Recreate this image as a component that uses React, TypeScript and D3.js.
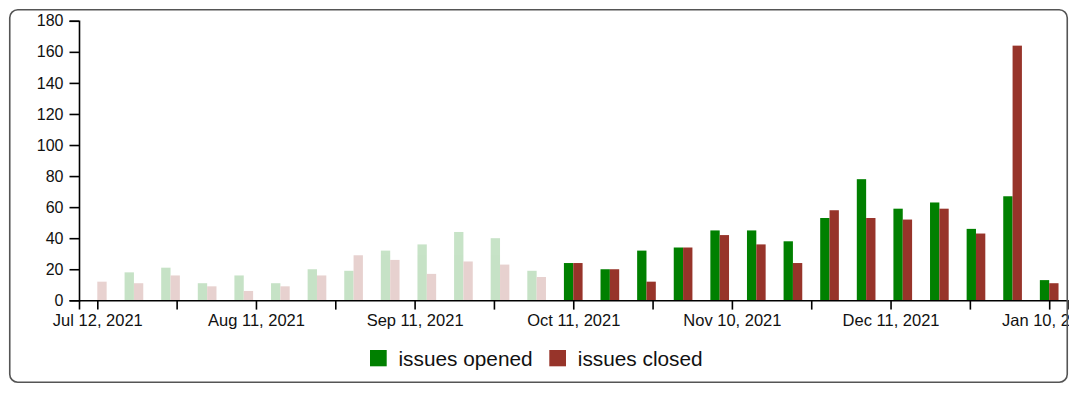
import React, { useEffect, useRef } from "react";
import * as d3 from "d3";

// ---- data ----
const weekDates = [
  "2021-07-12", "2021-07-19", "2021-07-26", "2021-08-02", "2021-08-09", "2021-08-16",
  "2021-08-23", "2021-08-30", "2021-09-06", "2021-09-13", "2021-09-20", "2021-09-27",
  "2021-10-04", "2021-10-11", "2021-10-18", "2021-10-25", "2021-11-01", "2021-11-08",
  "2021-11-15", "2021-11-22", "2021-11-29", "2021-12-06", "2021-12-13", "2021-12-20",
  "2021-12-27", "2022-01-03", "2022-01-10",
];
const issuesOpened = [0, 18, 21, 11, 16, 11, 20, 19, 32, 36, 44, 40, 19, 24, 20, 32, 34, 45, 45, 38, 53, 78, 59, 63, 46, 67, 13];
const issuesClosed = [12, 11, 16, 9, 6, 9, 16, 29, 26, 17, 25, 23, 15, 24, 20, 12, 34, 42, 36, 24, 58, 53, 52, 59, 43, 164, 11];
const highlightFrom = "2021-10-11";

const xTickDates = [
  "2021-07-12T12:00", "2021-07-27T16:00", "2021-08-11T20:00", "2021-08-27T00:00",
  "2021-09-11T04:00", "2021-09-26T08:00", "2021-10-11T12:00", "2021-10-26T16:00",
  "2021-11-10T20:00", "2021-11-26T00:00", "2021-12-11T04:00", "2021-12-26T08:00",
  "2022-01-10T12:00",
];
const xTickLabels = [
  "Jul 12, 2021", "", "Aug 11, 2021", "", "Sep 11, 2021", "", "Oct 11, 2021", "",
  "Nov 10, 2021", "", "Dec 11, 2021", "", "Jan 10, 2022",
];
const xDomain = ["2021-07-09T00:00", "2022-01-14T00:00"];
const yTicks = [0, 20, 40, 60, 80, 100, 120, 140, 160, 180];
const seriesNames = ["issues opened", "issues closed"];
const seriesColors = ["#008000", "#97342a"];

const FONT = "'Liberation Sans', Arial, Helvetica, sans-serif";

export default function App() {
  const svgRef = useRef<SVGSVGElement | null>(null);

  useEffect(() => {
    const svg = d3.select(svgRef.current);
    svg.selectAll("*").remove();

    const parseDay = d3.timeParse("%Y-%m-%d");
    const parseDT = d3.timeParse("%Y-%m-%dT%H:%M");

    const rows = weekDates.map((d, i) => ({
      date: d3.timeHour.offset(parseDay(d) as Date, 12),
      values: [issuesOpened[i], issuesClosed[i]],
      faded: d < highlightFrom,
    }));

    const x = d3
      .scaleTime()
      .domain(xDomain.map((d) => parseDT(d) as Date))
      .range([79, 1067.5]);
    const y = d3.scaleLinear().domain([0, 180]).range([300.3, 20.8]);

    const weekPx = x(d3.timeDay.offset(rows[0].date, 7)) - x(rows[0].date);
    const barW = weekPx * 0.255;
    const x1 = d3.scaleBand<string>().domain(seriesNames).range([-barW, barW]).padding(0);

    const defs = svg.append("defs");
    defs
      .append("clipPath")
      .attr("id", "frameClip")
      .append("rect")
      .attr("x", 10)
      .attr("y", 10)
      .attr("width", 1059)
      .attr("height", 372);

    const g = svg.append("g").attr("clip-path", "url(#frameClip)");

    // bars
    const groups = g
      .append("g")
      .selectAll("g")
      .data(rows)
      .join("g")
      .attr("transform", (d) => `translate(${x(d.date)},0)`)
      .attr("opacity", (d) => (d.faded ? 0.22 : 1));

    groups
      .selectAll("rect")
      .data((d) => d.values.map((v, k) => ({ v, k })))
      .join("rect")
      .attr("x", (d) => x1(seriesNames[d.k]) as number)
      .attr("width", x1.bandwidth())
      .attr("y", (d) => y(d.v))
      .attr("height", (d) => y(0) - y(d.v))
      .attr("fill", (d) => seriesColors[d.k]);

    // y axis
    const yAxis = g
      .append("g")
      .attr("transform", "translate(79,0)")
      .call(d3.axisLeft(y).tickValues(yTicks).tickSize(9.5).tickPadding(6));
    yAxis.attr("font-size", 16).attr("font-family", FONT);
    yAxis.selectAll("path,line").attr("stroke", "#000").attr("stroke-width", 1.6);
    yAxis.selectAll("text").attr("fill", "#111");

    // x axis
    const tickDates = xTickDates.map((d) => parseDT(d) as Date);
    const xAxis = g
      .append("g")
      .attr("transform", `translate(0,${y(0)})`)
      .call(
        d3
          .axisBottom(x)
          .tickValues(tickDates)
          .tickSize(9.3)
          .tickPadding(5)
          .tickFormat((_d, i) => xTickLabels[i])
      );
    xAxis.attr("font-size", 16.5).attr("font-family", FONT);
    xAxis.selectAll("path,line").attr("stroke", "#000").attr("stroke-width", 1.6);
    xAxis.selectAll("text").attr("fill", "#111");

    // legend
    const legendX = [370, 549.3];
    const lg = svg.append("g");
    seriesNames.forEach((name, i) => {
      lg.append("rect")
        .attr("x", legendX[i])
        .attr("y", 350)
        .attr("width", 16.7)
        .attr("height", 16.3)
        .attr("fill", seriesColors[i]);
      lg.append("text")
        .attr("x", legendX[i] + 28.5)
        .attr("y", 366)
        .attr("font-size", 20.8)
        .attr("font-family", FONT)
        .attr("fill", "#111")
        .text(name);
    });

    // frame
    svg
      .append("rect")
      .attr("x", 9.75)
      .attr("y", 9.75)
      .attr("width", 1057.5)
      .attr("height", 372.5)
      .attr("rx", 8)
      .attr("fill", "none")
      .attr("stroke", "#555")
      .attr("stroke-width", 1.6);
  }, []);

  return (
    <div style={{ position: "absolute", left: 0, top: 0 }}>
      <svg ref={svgRef} width={1080} height={398} style={{ display: "block", background: "#fff" }} />
    </div>
  );
}
